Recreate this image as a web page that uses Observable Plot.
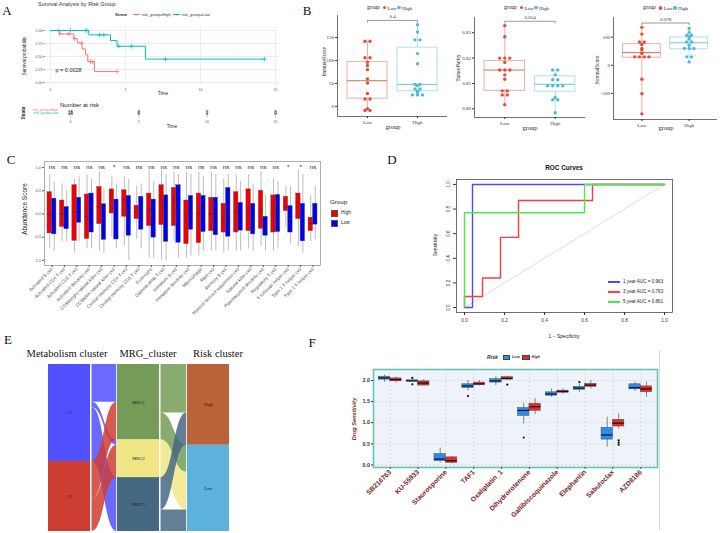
<!DOCTYPE html>
<html><head><meta charset="utf-8">
<script src="https://cdn.jsdelivr.net/npm/d3@7"></script>
<script src="https://cdn.jsdelivr.net/npm/@observablehq/plot@0.6"></script>
<style>
html,body{margin:0;padding:0;background:#fff;}
#root{position:relative;width:723px;height:533px;overflow:hidden;background:#fff;font-family:'Liberation Sans',Arial,sans-serif;}
.t{position:absolute;white-space:nowrap;line-height:1;}
</style></head>
<body><div id="root"></div>
<script>
// ================= DATA =================
// Panel A – survival
const hiT = [0, 0.62, 1.56, 1.82, 2.11, 2.33, 2.49, 2.93, 4.49];
const hiS = [1, 0.935, 0.84, 0.76, 0.645, 0.53, 0.40, 0.21, 0.21];
const loT = [0, 2.55, 4.0, 4.44, 6.33, 14.27];
const loS = [1, 0.916, 0.806, 0.697, 0.45, 0.45];
const hiCensT = [0.62, 1.22, 1.6, 2.07, 2.67, 2.82, 4.44];
const hiCensS = [0.935, 0.935, 0.84, 0.76, 0.40, 0.40, 0.21];
const loCensT = [0.55, 1.33, 2.33, 2.44, 3.27, 3.56, 4.56, 5.4, 7.67, 14.27];
const loCensS = [1, 1, 1, 1, 0.916, 0.916, 0.697, 0.697, 0.45, 0.45];
const timeTicks = [0, 5, 10, 15];
const timeMinor = [2.5, 7.5, 12.5];
const survTicks = [0, 0.25, 0.5, 0.75, 1];
const survMinor = [0.125, 0.375, 0.625, 0.875];
const riskTimes = [0, 5, 10, 15];
const riskHigh = [15, 0, 0, 0];
const riskLow = [16, 6, 1, 0];
const pValueA = "p = 0.0028";

// Panel B – estimate scores
const bGroups = ["Low", "High"];
const immuneLow = [142,142,106,106,96,89,80,60,51,28,16,16,-5,-9,-9];
const immuneHigh = [178,162,145,145,115,93,48,48,45,38,38,33,31,25,25,25];
const immuneLowBox = [-9, 17, 56, 97, 142];
const immuneHighBox = [25, 33, 48, 128, 178];
const purityLow = [0.8328,0.8284,0.8200,0.8200,0.8200,0.8183,0.8153,0.8153,0.8153,0.8134,0.8117,0.8071,0.8071,0.8055,0.8055,0.8016];
const purityHigh = [0.8153,0.8153,0.8134,0.8115,0.8115,0.8091,0.8091,0.8091,0.8091,0.8045,0.8036,0.8036,0.7985];
const purityLowBox = [0.8016, 0.8071, 0.8153, 0.8189, 0.8328];
const purityHighBox = [0.7985, 0.8068, 0.8097, 0.8128, 0.8153];
const stromalLow = [135,111,83,83,74,60,54,42,30,30,30,30,-50,-101,-173];
const stromalHigh = [131,117,107,107,101,93,83,83,71,60,60,60,30,30,12];
const stromalLowBox = [-173, 27, 45, 75, 135];
const stromalHighBox = [12, 57, 80, 99, 131];
const bPvalues = ["0.4", "0.054", "0.078"];

// Panel C – immune cell abundance
const cTypes = ["Activated B cell","Activated CD4 T cell","Activated CD8 T cell","Activated dendritic cell","CD56bright natural killer cell","CD56dim natural killer cell","Central memory CD4 T cell","Central memory CD8 T cell","Eosinophil","Gamma delta T cell","Immature B cell","Immature dendritic cell","Macrophage","Mast cell","Memory B cell","Myeloid derived suppressor cell","Natural killer cell","Plasmacytoid dendritic cell","Regulatory T cell","T follicular helper cell","Type 1 T helper cell","Type 2 T helper cell"];
const cSig = ["ns","ns","ns","ns","ns","*","ns","ns","ns","ns","ns","ns","ns","ns","ns","ns","ns","ns","ns","*","*","ns"];
const cHiLo  = [-0.75,-0.60,-0.85,-0.75,-0.80,-0.50,-0.70,-0.55,-0.95,-1.00,-0.60,-0.95,-0.90,-0.80,-0.85,-0.80,-0.75,-0.70,-0.80,-0.30,-0.70,-0.60];
const cHiQ1  = [-0.42,-0.28,-0.58,-0.54,-0.22,0.01,-0.06,-0.11,-0.26,-0.24,-0.26,-0.65,-0.63,-0.37,-0.40,-0.40,-0.37,-0.32,-0.40,0.06,-0.11,-0.37];
const cHiMed = [0.00,0.00,0.05,-0.05,0.15,0.30,0.30,0.05,0.10,0.25,0.30,0.00,0.00,0.00,-0.10,0.05,0.05,0.10,0.00,0.15,0.25,-0.20];
const cHiQ3  = [0.47,0.29,0.62,0.42,0.58,0.53,0.51,0.18,0.44,0.62,0.56,0.29,0.44,0.35,0.22,0.47,0.53,0.50,0.40,0.37,0.44,-0.08];
const cHiHi  = [0.85,0.65,0.75,0.85,0.90,0.80,0.80,0.60,0.95,0.95,0.90,0.90,0.90,0.90,0.75,0.85,0.85,0.90,0.75,0.60,0.95,0.40];
const cLoLo  = [-0.80,-0.60,-0.60,-0.75,-0.85,-0.75,-1.00,-0.75,-0.95,-1.00,-0.95,-0.90,-0.80,-0.80,-0.80,-0.80,-0.80,-0.80,-0.75,-0.65,-0.85,-0.55];
const cLoQ1  = [-0.44,-0.33,-0.19,-0.40,-0.56,-0.55,-0.47,-0.34,-0.51,-0.60,-0.62,-0.34,-0.39,-0.46,-0.49,-0.36,-0.44,-0.47,-0.39,-0.40,-0.59,-0.23];
const cLoMed = [0.00,-0.10,0.00,0.15,-0.10,-0.10,0.00,0.00,-0.05,0.00,0.05,0.00,0.00,-0.05,0.00,-0.05,-0.10,-0.30,0.00,-0.10,-0.20,0.00];
const cLoQ3  = [0.33,0.15,0.35,0.44,0.21,0.31,0.39,0.37,0.31,0.40,0.62,0.39,0.39,0.35,0.56,0.24,0.22,-0.06,0.41,0.17,0.22,0.22];
const cLoHi  = [0.70,0.50,0.80,0.75,0.55,0.65,0.75,0.65,0.70,0.85,0.85,0.85,0.80,0.85,0.85,0.70,0.65,0.40,0.70,0.60,0.85,0.60];
const cTicks = [-1, -0.5, 0, 0.5, 1];

// Panel D – ROC
const roc1x = [0, 0.04, 0.04, 1];
const roc1y = [0, 0, 1, 1];
const roc3x = [0, 0, 0.09, 0.09, 0.18, 0.18, 0.27, 0.27, 0.64, 0.64, 1];
const roc3y = [0, 0.09, 0.09, 0.24, 0.24, 0.57, 0.57, 0.87, 0.87, 1, 1];
const roc5x = [0, 0, 0.6, 0.6, 1];
const roc5y = [0, 0.77, 0.77, 1, 1];
const rocLabels = ["1 year AUC = 0.963", "3 year AUC = 0.763", "5 year AUC = 0.861"];
const rocTicks = [0, 0.2, 0.4, 0.6, 0.8, 1];
const diagLine = [0, 1];

// Panel E – alluvial
const metaLevels = ["C1", "C2"];
const mrgLevels = ["MRG1", "MRG2", "MRG3"];
const riskLevels = ["High", "Low"];
const metaToMrg = [[7, 1, 10], [7, 6, 0]];
const mrgToRisk = [[9, 5], [0, 7], [6, 4]];
const eTitles = ["Metabolism cluster", "MRG_cluster", "Risk cluster"];

// Panel F – drug sensitivity
const drugs = ["SB216763","KU-55933","Staurosporine","TAF1","Oxaliplatin_1","Dihydrorotenone","Gallibiscoquinazole","Elephantin","Sabutoclax","AZD8186"];
const fLowLo  = [1.96,1.98,0.05,1.75,1.88,0.97,1.60,1.72,0.42,1.74];
const fLowQ1  = [2.02,1.975,0.09,1.82,1.95,1.16,1.64,1.78,0.60,1.79];
const fLowMed = [2.06,1.99,0.14,1.87,1.99,1.29,1.68,1.82,0.71,1.83];
const fLowQ3  = [2.09,2.005,0.26,1.91,2.03,1.35,1.72,1.85,0.88,1.91];
const fLowHi  = [2.13,2.01,0.40,2.00,2.09,1.46,1.80,1.90,1.13,1.96];
const fHighLo = [1.94,1.87,0.03,1.87,2.00,1.19,1.67,1.80,0.85,1.60];
const fHighQ1 = [1.98,1.88,0.05,1.89,2.02,1.28,1.71,1.85,0.91,1.72];
const fHighMed= [2.02,1.94,0.10,1.92,2.05,1.38,1.74,1.89,0.99,1.80];
const fHighQ3 = [2.05,1.98,0.18,1.95,2.08,1.45,1.76,1.92,1.07,1.86];
const fHighHi = [2.08,2.02,0.20,2.00,2.10,1.57,1.80,2.00,1.21,1.96];
const fOutDrug = [2, 2, 4, 6, 8, 5, 9, 9, 9];
const fOutRisk = ["Low","Low","Low","Low","Low","High","High","High","High"];
const fOutVal  = [2.06, 1.91, 1.63, 0.65, 1.96, 1.90, 0.58, 0.53, 0.48];
const fTicks = [0, 0.5, 1, 1.5, 2];

// ================= HELPERS =================
const SANS = "'Liberation Sans', Arial, Helvetica, sans-serif";
const SERIF = "'Liberation Serif', 'Times New Roman', serif";
const root = document.getElementById("root");
function mount(svg, x, y) {
  svg.style.position = "absolute"; svg.style.left = x + "px"; svg.style.top = y + "px";
  root.appendChild(svg);
}
function T(s, x, y, o = {}) {
  const e = document.createElement("div");
  e.className = "t"; e.textContent = s;
  e.style.left = x + "px"; e.style.top = y + "px";
  e.style.fontSize = (o.size || 6) + "px";
  e.style.fontFamily = o.font || SANS;
  e.style.color = o.color || "#222";
  if (o.weight) e.style.fontWeight = o.weight;
  if (o.italic) e.style.fontStyle = "italic";
  const ax = o.anchor === "start" ? "0%" : o.anchor === "end" ? "-100%" : "-50%";
  e.style.transform = `translate(${ax},-50%)` + (o.rotate ? ` rotate(${o.rotate}deg)` : "");
  root.appendChild(e); return e;
}
function box(x, y, w, h, css) {
  const e = document.createElement("div");
  e.style.position = "absolute"; e.style.left = x + "px"; e.style.top = y + "px";
  e.style.width = w + "px"; e.style.height = h + "px";
  Object.assign(e.style, css || {});
  root.appendChild(e); return e;
}
const baseStyle = (font, size, color) => ({fontFamily: font, fontSize: size + "px", color: color, background: "transparent", overflow: "visible"});

// ================= PANEL LETTERS =================
[["A",7,10],["B",307,10],["C",11,159],["D",392,159],["E",8,339],["F",312,342]].forEach(([l,x,y]) =>
  T(l, x, y, {size: 13, font: SERIF, color: "#111"}));

// ================= PANEL A =================
const HI = "#F8766D", LO = "#00BFC4";
const hiRows = hiT.map((t, i) => ({t, s: hiS[i]}));
const loRows = loT.map((t, i) => ({t, s: loS[i]}));
const hiCens = hiCensT.map((t, i) => ({t, s: hiCensS[i]}));
const loCens = loCensT.map((t, i) => ({t, s: loCensS[i]}));
mount(Plot.plot({
  width: 290, height: 100, marginLeft: 45, marginRight: 12, marginTop: 27, marginBottom: 15,
  x: {domain: [-0.33, 15.2], label: null}, y: {domain: [-0.058, 1.058], label: null},
  style: baseStyle(SANS, 3.6, "#555"),
  marks: [
    Plot.gridX(timeMinor, {stroke: "#f3f3f3", strokeOpacity: 1, strokeWidth: 0.5}),
    Plot.gridY(survMinor, {stroke: "#f3f3f3", strokeOpacity: 1, strokeWidth: 0.5}),
    Plot.gridX(timeTicks, {stroke: "#e8e8e8", strokeOpacity: 1, strokeWidth: 0.8}),
    Plot.gridY(survTicks, {stroke: "#e8e8e8", strokeOpacity: 1, strokeWidth: 0.8}),
    Plot.axisX(timeTicks, {tickSize: 0, tickPadding: 2.5, label: null}),
    Plot.axisY(survTicks, {tickSize: 1.5, tickPadding: 1.5, tickFormat: d => d.toFixed(2), label: null, stroke: "#888"}),
    Plot.line(hiRows, {x: "t", y: "s", curve: "step-after", stroke: HI, strokeWidth: 1}),
    Plot.line(loRows, {x: "t", y: "s", curve: "step-after", stroke: LO, strokeWidth: 1}),
    Plot.dot(hiCens, {x: "t", y: "s", symbol: "plus", r: 1.6, stroke: HI, strokeWidth: 0.7}),
    Plot.dot(loCens, {x: "t", y: "s", symbol: "plus", r: 1.6, stroke: LO, strokeWidth: 0.7}),
    Plot.text([pValueA], {text: d => d, frameAnchor: "bottom-left", dx: 10, dy: -14, fontSize: 5.5, fill: "#222", textAnchor: "start"})
  ]
}), 0, 0);
T("Survival Analysis by Risk Group", 38, 4.5, {anchor: "start", size: 5.5, color: "#333"});
T("Strata", 115, 15, {anchor: "start", size: 4.2, weight: "bold", color: "#333"});
box(133, 14, 7, 1, {background: HI});
T("+", 136.5, 15, {size: 4, color: HI});
T("risk_group=High", 141.5, 15, {anchor: "start", size: 4, color: "#333"});
box(173, 14, 7, 1, {background: LO});
T("+", 176.5, 15, {size: 4, color: LO});
T("risk_group=Low", 181.5, 15, {anchor: "start", size: 4, color: "#333"});
T("Survival probability", 25, 56, {size: 4.6, rotate: -90, color: "#222"});
T("Time", 163, 94, {size: 4.8, color: "#222"});

// risk table
const riskTable = riskTimes.flatMap((t, i) => [{t, g: "High", n: riskHigh[i]}, {t, g: "Low", n: riskLow[i]}]);
mount(Plot.plot({
  width: 290, height: 30, marginLeft: 60, marginRight: 10, marginTop: 8, marginBottom: 14,
  x: {domain: [-0.73, 15.37], label: null},
  y: {type: "point", domain: ["High", "Low"], range: [11, 14.2], axis: null},
  style: baseStyle(SANS, 3.6, "#555"),
  marks: [
    Plot.gridX(riskTimes, {stroke: "#eeeeee", strokeOpacity: 1}),
    Plot.axisX(riskTimes, {tickSize: 1.5, tickPadding: 2, stroke: "#bbb", label: null}),
    Plot.text(riskTable, {x: "t", y: "g", text: "n", fontSize: 4.5, fill: "#333"})
  ]
}), 0, 100);
T("Number at risk", 60, 105, {anchor: "start", size: 6, color: "#222"});
T("risk_group=High", 58, 111, {anchor: "end", size: 3.5, color: HI});
T("risk_group=Low", 58, 114.2, {anchor: "end", size: 3.5, color: LO});
T("Strata", 24, 113, {size: 4.5, rotate: -90, weight: "bold", color: "#333"});
T("Time", 172, 127, {size: 4.8, color: "#222"});

// ================= PANEL B =================
const BLOW = "#E64B35", BHIGH = "#4DBBD5";
function spread(vals, gi, g) {
  const counts = d3.rollup(vals, v => v.length, d => d);
  const seen = new Map();
  return vals.map(v => {
    const n = counts.get(v), k = seen.get(v) || 0; seen.set(v, k + 1);
    return {g, x: gi + (k - (n - 1) / 2) * 0.1, y: v};
  });
}
function panelB(o) {
  const pts = [...spread(o.low, 1, "Low"), ...spread(o.high, 2, "High")];
  const col = g => g === "Low" ? BLOW : BHIGH;
  const boxes = [{g: "Low", x: 1, s: o.lowBox}, {g: "High", x: 2, s: o.highBox}];
  const all = o.low.concat(o.high);
  const mx = d3.max(all), mn = d3.min(all);
  const by = mx + 0.05 * (mx - mn), tip = by - 0.02 * (mx - mn);
  const path = [{x: 1, y: tip}, {x: 1, y: by}, {x: 2, y: by}, {x: 2, y: tip}];
  const svg = Plot.plot({
    width: o.w, height: 135, marginLeft: o.ml, marginRight: o.mr, marginTop: o.mt, marginBottom: o.mb,
    x: {domain: [0.4, 2.6], label: null}, y: {domain: o.domain, label: null},
    style: baseStyle(SERIF, 5, "#333"),
    marks: [
      Plot.ruleX(boxes, {x: "x", y1: d => d.s[0], y2: d => d.s[1], stroke: d => col(d.g), strokeOpacity: 0.5, strokeWidth: 0.9}),
      Plot.ruleX(boxes, {x: "x", y1: d => d.s[3], y2: d => d.s[4], stroke: d => col(d.g), strokeOpacity: 0.5, strokeWidth: 0.9}),
      Plot.rect(boxes, {x1: d => d.x - 0.4, x2: d => d.x + 0.4, y1: d => d.s[1], y2: d => d.s[3], fill: "none", stroke: d => col(d.g), strokeOpacity: 0.5, strokeWidth: 0.9}),
      Plot.ruleY(boxes, {y: d => d.s[2], x1: d => d.x - 0.4, x2: d => d.x + 0.4, stroke: d => col(d.g), strokeOpacity: 0.85, strokeWidth: 1}),
      Plot.dot(pts, {x: "x", y: "y", r: 1.7, fill: d => col(d.g), stroke: "none"}),
      Plot.line(path, {x: "x", y: "y", stroke: "#555", strokeWidth: 0.6}),
      Plot.text([o.p], {x: 1.5, y: by, text: d => d, dy: -3.5, fontSize: 5, fill: "#333"}),
      Plot.ruleX([0.4], {stroke: "#333", strokeWidth: 0.7}),
      Plot.ruleY([o.domain[0]], {stroke: "#333", strokeWidth: 0.7}),
      Plot.axisX([1, 2], {tickFormat: i => bGroups[i - 1], tickSize: 2, tickPadding: 1.5, label: null}),
      Plot.axisY(o.ticks, {tickFormat: o.fmt, tickSize: 2, tickPadding: 1.5, label: null})
    ]
  });
  mount(svg, o.left, 0);
}
panelB({left: 300, w: 150, ml: 37, mr: 3, mt: 15, mb: 19, domain: [-22, 198], ticks: [0, 50, 100, 150], fmt: d => String(d),
  low: immuneLow, high: immuneHigh, lowBox: immuneLowBox, highBox: immuneHighBox, p: bPvalues[0]});
panelB({left: 450, w: 140, ml: 24, mr: 5, mt: 17, mb: 18, domain: [0.7966, 0.836], ticks: [0.80, 0.81, 0.82, 0.83], fmt: d => d.toFixed(2),
  low: purityLow, high: purityHigh, lowBox: purityLowBox, highBox: purityHighBox, p: bPvalues[1]});
panelB({left: 590, w: 133, ml: 23, mr: 6, mt: 17, mb: 16, domain: [-193, 170], ticks: [-100, 0, 100], fmt: d => String(d),
  low: stromalLow, high: stromalHigh, lowBox: stromalLowBox, highBox: stromalHighBox, p: bPvalues[2]});
function legendB(x, y) {
  T("group", x, y, {anchor: "start", size: 5.5, font: SERIF, color: "#222"});
  box(x + 15.5, y - 1.8, 3.6, 3.6, {background: BLOW, borderRadius: "50%"});
  T("Low", x + 20.5, y, {anchor: "start", size: 5, font: SERIF, color: "#222"});
  box(x + 30, y - 1.8, 3.6, 3.6, {background: BHIGH, borderRadius: "50%"});
  T("High", x + 35, y, {anchor: "start", size: 5, font: SERIF, color: "#222"});
}
legendB(367, 7.5); legendB(504, 7.5); legendB(643, 8);
T("group", 393, 127, {size: 6.5, font: SERIF});
T("group", 530, 127.5, {size: 6.5, font: SERIF});
T("group", 666, 128, {size: 6.5, font: SERIF});
T("ImmuneScore", 325, 62, {size: 5.3, font: SERIF, rotate: -90});
T("TumorPurity", 459, 68, {size: 5.3, font: SERIF, rotate: -90});
T("StromalScore", 598, 70, {size: 5.3, font: SERIF, rotate: -90});

// ================= PANEL C =================
const CRED = "#F00000", CBLUE = "#0000EE";
const cRows = cTypes.flatMap((c, i) => [
  {g: "High", x: i + 1 - 0.18, lo: cHiLo[i], q1: cHiQ1[i], med: cHiMed[i], q3: cHiQ3[i], hi: cHiHi[i]},
  {g: "Low",  x: i + 1 + 0.18, lo: cLoLo[i], q1: cLoQ1[i], med: cLoMed[i], q3: cLoQ3[i], hi: cLoHi[i]}
]);
mount(Plot.plot({
  width: 325, height: 180, marginLeft: 44, marginRight: 5, marginTop: 11, marginBottom: 65,
  x: {domain: [0.4, 22.6], label: null}, y: {domain: [-1.11, 1.13], label: null},
  style: baseStyle(SANS, 4, "#555"),
  marks: [
    Plot.ruleX(cRows, {x: "x", y1: "lo", y2: "hi", stroke: "#a0a0a0", strokeWidth: 0.7}),
    Plot.rect(cRows, {x1: d => d.x - 0.18, x2: d => d.x + 0.18, y1: "q1", y2: "q3", fill: d => d.g === "High" ? CRED : CBLUE, stroke: "#555", strokeWidth: 0.4}),
    Plot.ruleY(cRows, {y: "med", x1: d => d.x - 0.18, x2: d => d.x + 0.18, stroke: "#333", strokeWidth: 0.6}),
    Plot.frame({stroke: "#8c8c8c", strokeWidth: 0.7}),
    Plot.axisY(cTicks, {tickFormat: d => d.toFixed(1), tickSize: 2, tickPadding: 1.5, label: null, stroke: "#555"}),
    Plot.axisX(d3.range(1, 23), {tickFormat: i => cTypes[i - 1], tickRotate: -45, tickSize: 2, tickPadding: 1, fontSize: 4.6, fill: "#555", stroke: "#555", label: null}),
    Plot.text(cSig, {x: (d, i) => i + 1, text: d => d, frameAnchor: "top", dy: 3, fontSize: 6.2, fill: "#222"})
  ]
}), 0, 150);
T("Abundance Score", 25, 209, {size: 6.5, rotate: -90, color: "#222"});
T("Group", 330, 202, {anchor: "start", size: 6.2, color: "#222"});
box(331, 209.5, 7, 7, {background: CRED, border: "0.5px solid #555", boxSizing: "border-box"});
box(331, 219.5, 7, 7, {background: CBLUE, border: "0.5px solid #555", boxSizing: "border-box"});
T("High", 341, 213, {anchor: "start", size: 4.8, color: "#222"});
T("Low", 341, 223, {anchor: "start", size: 4.8, color: "#222"});

// ================= PANEL D =================
const rocSeries = [
  {x: roc1x, y: roc1y, c: "#4A4AFF"},
  {x: roc3x, y: roc3y, c: "#FF3B3B"},
  {x: roc5x, y: roc5y, c: "#44EE44"}
];
mount(Plot.plot({
  width: 280, height: 180, marginLeft: 36, marginRight: 28, marginTop: 19, marginBottom: 28,
  x: {domain: [-0.04, 1.04], label: null}, y: {domain: [-0.04, 1.04], label: null},
  style: baseStyle(SANS, 4.6, "#333"),
  marks: [
    Plot.line(diagLine, {x: d => d, y: d => d, stroke: "#bbb", strokeDasharray: "1,1.5", strokeWidth: 0.7}),
    ...rocSeries.map(s => Plot.line(s.x.map((v, i) => ({fx: v, ty: s.y[i]})), {x: "fx", y: "ty", stroke: s.c, strokeWidth: 1.4})),
    Plot.frame({stroke: "#333", strokeWidth: 0.7}),
    Plot.axisX(rocTicks, {tickFormat: d => d.toFixed(1), tickSize: 3, tickPadding: 3.5, label: null}),
    Plot.axisY(rocTicks, {tickFormat: d => d.toFixed(1), tickSize: 3, tickPadding: 3.5, tickRotate: -90, label: null})
  ]
}), 420, 160);
T("ROC Curves", 564, 168, {size: 6.4, weight: "bold", color: "#111"});
T("1 − Specificity", 564, 335.5, {size: 5, color: "#222"});
T("Sensitivity", 435, 245, {size: 5, rotate: -90, color: "#222"});
rocSeries.forEach((s, i) => {
  box(608, 281 + i * 10, 12, 1.5, {backgroundColor: s.c});
  T(rocLabels[i], 623, 282 + i * 10, {anchor: "start", size: 4.6, color: "#222"});
});

// ================= PANEL E =================
const eColors = {C1: "#5050FF", C2: "#CE3D32", MRG1: "#749B58", MRG2: "#F0E685", MRG3: "#466983", High: "#BA6338", Low: "#5DB1DD"};
const colX = [[48, 90], [117, 159], [187, 229]];
const metaCounts = metaToMrg.map(r => d3.sum(r));
const mrgCounts = mrgLevels.map((m, j) => d3.sum(metaToMrg, r => r[j]));
const riskCounts = riskLevels.map((r, j) => d3.sum(mrgToRisk, row => row[j]));
const starts = c => { let s = 0; return c.map(v => { const a = s; s += v; return a; }); };
const strata = [];
[[metaLevels, metaCounts], [mrgLevels, mrgCounts], [riskLevels, riskCounts]].forEach(([lv, cn], k) => {
  const st = starts(cn);
  lv.forEach((name, i) => strata.push({name, x1: colX[k][0], x2: colX[k][1], y1: st[i], y2: st[i] + cn[i]}));
});
function flows(srcLv, srcCn, dstLv, dstCn, M, xa, xb, tag) {
  const ss = starts(srcCn), ds = starts(dstCn);
  const left = srcLv.map((s, i) => { let p = ss[i]; return dstLv.map((d, j) => { const a = p; p += M[i][j]; return a; }); });
  const rightPtr = dstLv.map((d, j) => ds[j]);
  const right = srcLv.map(() => []);
  dstLv.forEach((d, j) => srcLv.forEach((s, i) => { right[i][j] = rightPtr[j]; rightPtr[j] += M[i][j]; }));
  const rows = [];
  srcLv.forEach((s, i) => dstLv.forEach((d, j) => {
    const m = M[i][j]; if (!m) return;
    const id = tag + s + d;
    rows.push({id, x: xa, y1: left[i][j], y2: left[i][j] + m, c: eColors[s]});
    rows.push({id, x: xb, y1: right[i][j], y2: right[i][j] + m, c: eColors[s]});
  }));
  return rows;
}
const flowRows = [
  ...flows(metaLevels, metaCounts, mrgLevels, mrgCounts, metaToMrg, colX[0][1] + 1.5, colX[1][0] - 0.8, "a"),
  ...flows(mrgLevels, mrgCounts, riskLevels, riskCounts, mrgToRisk, colX[1][1] + 1.5, colX[2][0] - 0.8, "b")
];
mount(Plot.plot({
  width: 300, height: 178, marginLeft: 0, marginRight: 0, marginTop: 9, marginBottom: 2,
  x: {domain: [0, 300], axis: null}, y: {domain: [31, 0], axis: null},
  style: baseStyle(SERIF, 4.5, "#111"),
  marks: [
    Plot.area(flowRows, {x1: "x", y1: "y1", y2: "y2", z: "id", fill: "c", fillOpacity: 0.85, curve: "bump-x"}),
    Plot.rect(strata, {x1: "x1", x2: "x2", y1: "y1", y2: "y2", fill: d => eColors[d.name]}),
    Plot.text(strata, {x: d => (d.x1 + d.x2) / 2, y: d => (d.y1 + d.y2) / 2, text: "name", fontSize: 4.5, fill: "#1a1a1a"})
  ]
}), 0, 355);
T(eTitles[0], 67, 354, {size: 10.5, font: SERIF, color: "#111"});
T(eTitles[1], 148, 354, {size: 10.5, font: SERIF, color: "#111"});
T(eTitles[2], 218, 354, {size: 10.5, font: SERIF, color: "#111"});

// ================= PANEL F =================
const FLOW = "#2A8CF2", FHIGH = "#E8282B";
const fRows = drugs.flatMap((d, i) => [
  {g: "Low", x: i + 1 - 0.205, lo: fLowLo[i], q1: fLowQ1[i], med: fLowMed[i], q3: fLowQ3[i], hi: fLowHi[i]},
  {g: "High", x: i + 1 + 0.205, lo: fHighLo[i], q1: fHighQ1[i], med: fHighMed[i], q3: fHighQ3[i], hi: fHighHi[i]}
]);
const fOut = fOutDrug.map((d, i) => ({x: d + (fOutRisk[i] === "Low" ? -0.205 : 0.205), y: fOutVal[i]}));
mount(Plot.plot({
  width: 370, height: 188, marginLeft: 73, marginRight: 13, marginTop: 24, marginBottom: 66,
  x: {domain: [0.4, 10.6], label: null}, y: {domain: [-0.06, 2.26], label: null},
  style: baseStyle(SANS, 5.4, "#333"),
  marks: [
    Plot.frame({fill: "#EEF3FA"}),
    Plot.gridY(fTicks, {stroke: "#c4c9d2", strokeOpacity: 1, strokeDasharray: "2,2", strokeWidth: 0.6}),
    Plot.gridX(d3.range(1, 11), {stroke: "#c4c9d2", strokeOpacity: 1, strokeDasharray: "2,2", strokeWidth: 0.6}),
    Plot.ruleX(fRows, {x: "x", y1: "lo", y2: "hi", stroke: "#555", strokeWidth: 0.7}),
    Plot.rect(fRows, {x1: d => d.x - 0.205, x2: d => d.x + 0.205, y1: "q1", y2: "q3", fill: d => d.g === "Low" ? FLOW : FHIGH, stroke: "#555", strokeWidth: 0.5}),
    Plot.ruleY(fRows, {y: "med", x1: d => d.x - 0.205, x2: d => d.x + 0.205, stroke: "#111", strokeWidth: 1.2}),
    Plot.dot(fOut, {x: "x", y: "y", r: 1.1, fill: "#111"}),
    Plot.frame({stroke: "#6CC3B4", strokeWidth: 1.6}),
    Plot.axisY(fTicks, {tickFormat: d => d.toFixed(1), tickSize: 2, tickPadding: 1.5, fontWeight: "bold", fill: "#333", label: null}),
    Plot.axisX(d3.range(1, 11), {tickFormat: i => drugs[i - 1], tickRotate: -45, tickSize: 2, tickPadding: 1.5, fontSize: 6.8, fontWeight: "bold", fill: "#7A1F1F", stroke: "#555", label: null})
  ]
}), 300, 345);
T("Drug Sensitivity", 355, 419, {size: 5.6, rotate: -90, weight: "bold", italic: true, color: "#7A1F1F"});
T("Risk", 487, 357.5, {anchor: "start", size: 5.2, weight: "bold", italic: true, color: "#333"});
box(502.5, 355, 7.5, 5, {background: FLOW, border: "0.5px solid #444", boxSizing: "border-box"});
T("Low", 512, 357.5, {anchor: "start", size: 3.8, weight: "bold", italic: true, color: "#333"});
box(522, 355, 7.5, 5, {background: FHIGH, border: "0.5px solid #444", boxSizing: "border-box"});
T("High", 531.5, 357.5, {anchor: "start", size: 3.8, weight: "bold", italic: true, color: "#333"});
box(659, 350, 0.8, 180, {background: "#d8d8d8"});
</script>
</body></html>
